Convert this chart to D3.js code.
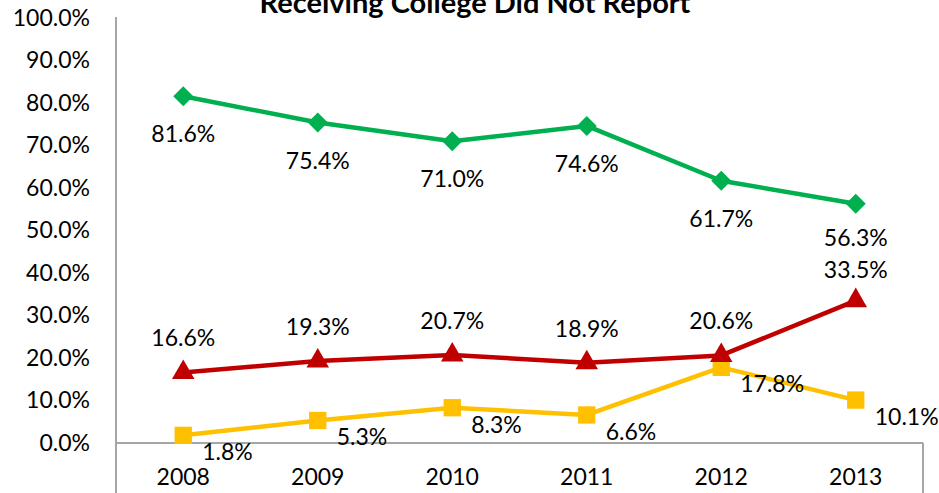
<!DOCTYPE html>
<html><head><meta charset="utf-8">
<script src="https://cdn.jsdelivr.net/npm/d3@7"></script>
<style>body{margin:0;background:#fff}svg{display:block}text{font-family:Lato,"Liberation Sans",sans-serif}</style>
</head><body><svg id="c" width="939" height="493"></svg>
<script>
const title = "Receiving College Did Not Report";
const years = ["2008","2009","2010","2011","2012","2013"];
const greenVals = [81.6, 75.4, 71.0, 74.6, 61.7, 56.3];
const redVals = [16.6, 19.3, 20.7, 18.9, 20.6, 33.5];
const yellowVals = [1.8, 5.3, 8.3, 6.6, 17.8, 10.1];
const yTicks = [0,10,20,30,40,50,60,70,80,90,100];

const svg = d3.select("#c");
const W = 939, H = 493;
const left = 116, right = 923, y0 = 443, y100 = 18;
const x = d3.scaleBand().domain(years).range([left, right]);
const y = d3.scaleLinear().domain([0,100]).range([y0, y100]);
const cx = d => x(d) + x.bandwidth()/2;
const axisCol = "#a6a6a6";

// title
svg.append("text").attr("x", 475).attr("y", 13).attr("text-anchor","middle")
  .attr("font-weight","bold").attr("font-size",29).attr("fill","#000").text(title);

// y axis
const ya = svg.append("g").attr("transform",`translate(${left},0)`)
  .call(d3.axisLeft(y).tickValues(yTicks).tickSize(0).tickPadding(26).tickFormat(d=>d.toFixed(1)+"%"));
ya.select(".domain").remove();
ya.selectAll("text").attr("font-size",23).attr("fill","#000").attr("font-family","Lato,sans-serif");
svg.append("line").attr("x1",left).attr("x2",left).attr("y1",17).attr("y2",H).attr("stroke",axisCol).attr("stroke-width",2);

// x axis
const xa = svg.append("g").attr("transform",`translate(0,${y0})`)
  .call(d3.axisBottom(x).tickSize(0).tickPadding(26));
xa.select(".domain").remove();
xa.selectAll("text").attr("font-size",23).attr("fill","#000").attr("font-family","Lato,sans-serif");
svg.append("line").attr("x1",left).attr("x2",right).attr("y1",y0).attr("y2",y0).attr("stroke",axisCol).attr("stroke-width",2);
svg.append("line").attr("x1",right).attr("x2",right).attr("y1",y0).attr("y2",H).attr("stroke",axisCol).attr("stroke-width",2);

const line = d3.line().x((d,i)=>cx(years[i])).y(d=>y(d));
const squareDiamond = { draw(ctx, size){ const r = Math.sqrt(size/2); ctx.moveTo(0,-r); ctx.lineTo(r,0); ctx.lineTo(0,r); ctx.lineTo(-r,0); ctx.closePath(); } };

function series(vals, color, symType, symSize){
  const g = svg.append("g");
  g.append("path").datum(vals).attr("d",line).attr("fill","none").attr("stroke",color).attr("stroke-width",4.5).attr("stroke-linejoin","round");
  g.selectAll("path.m").data(vals).join("path").attr("class","m")
    .attr("transform",(d,i)=>`translate(${cx(years[i])},${y(d)})`)
    .attr("d", d3.symbol().type(symType).size(symSize)).attr("fill",color);
}
function labels(vals, dx, dy, anchor){
  return svg.append("g").selectAll("text").data(vals).join("text")
    .attr("x",(d,i)=>cx(years[i])+dx).attr("y",d=>y(d)+dy)
    .attr("text-anchor",anchor).attr("dominant-baseline","central")
    .attr("font-size",23).attr("fill","#000").text(d=>d.toFixed(1)+"%");
}
series(yellowVals, "#FFC000", d3.symbolSquare, 300);
series(redVals, "#C00000", d3.symbolTriangle, 220);
series(greenVals, "#00B050", squareDiamond, 200);
const gl = labels(greenVals, 0, 37, "middle");
const rl = labels(redVals, 0, -35, "middle");
labels(yellowVals, 19, 16, "start");

// resolve overlap between green (below) and red (above) labels at the same year
const gn = gl.nodes(), rn = rl.nodes();
gn.forEach((g,i)=>{
  const r = rn[i];
  const gb = g.getBBox(), rb = r.getBBox();
  const overlap = gb.y + gb.height - rb.y;
  if (overlap > -4){
    const s = (overlap + 4)/2;
    g.setAttribute("y", +g.getAttribute("y") - s);
    r.setAttribute("y", +r.getAttribute("y") + s);
  }
});
</script></body></html>
